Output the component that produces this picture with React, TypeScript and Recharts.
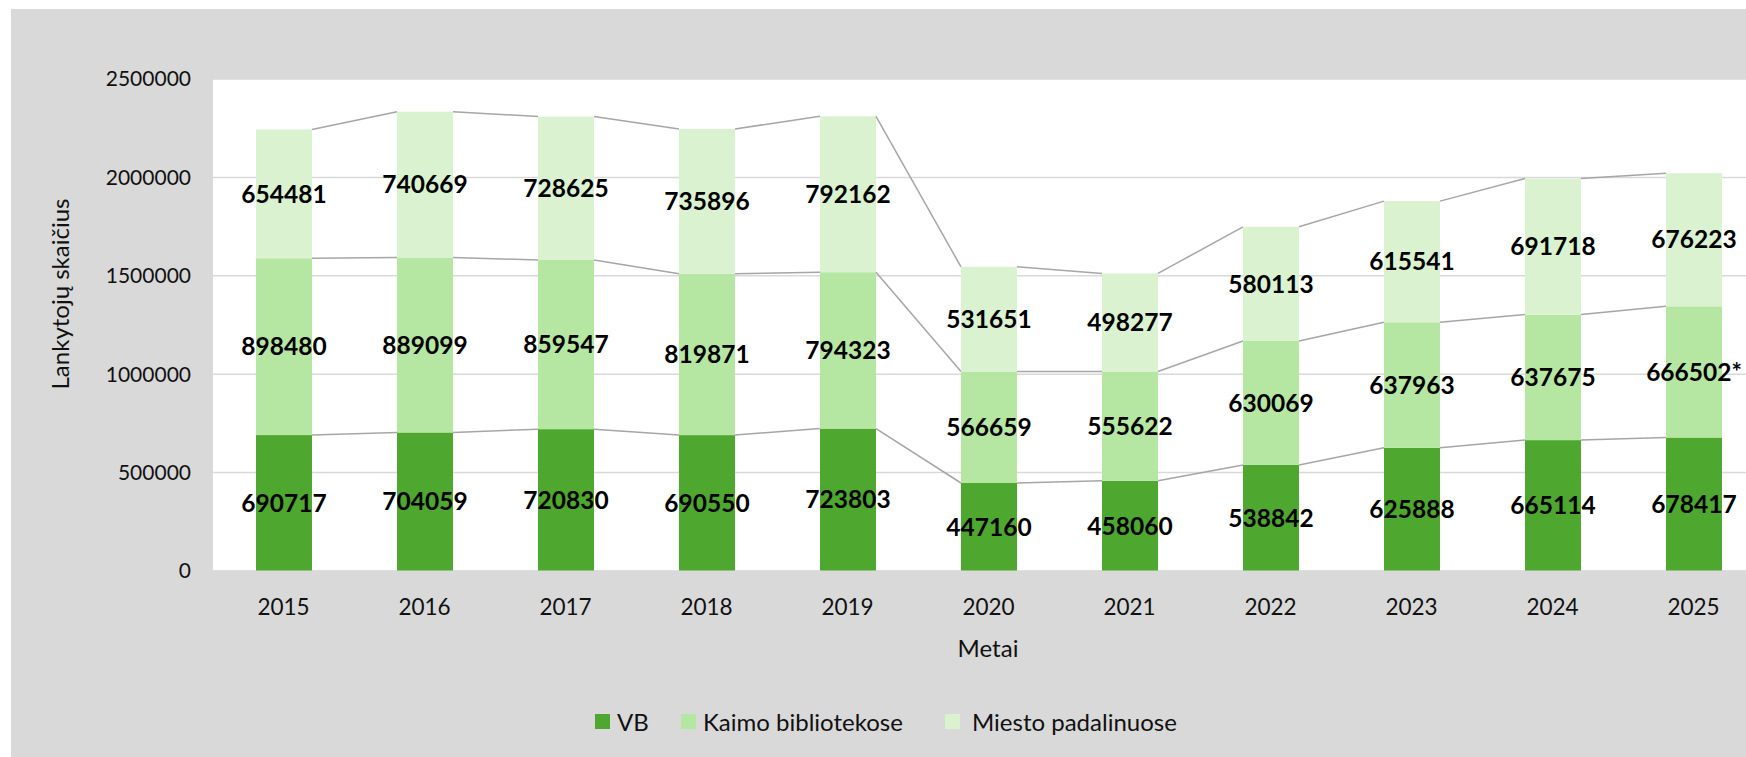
import React from "react";
import { BarChart, Bar, XAxis, YAxis, CartesianGrid, Legend, LabelList } from "recharts";

const years = ["2015", "2016", "2017", "2018", "2019", "2020", "2021", "2022", "2023", "2024", "2025"];
const vb = [690717, 704059, 720830, 690550, 723803, 447160, 458060, 538842, 625888, 665114, 678417];
const kaimo = [898480, 889099, 859547, 819871, 794323, 566659, 555622, 630069, 637963, 637675, 666502];
const miesto = [654481, 740669, 728625, 735896, 792162, 531651, 498277, 580113, 615541, 691718, 676223];
const kaimoNotes = ["", "", "", "", "", "", "", "", "", "", "*"];
const seriesNames = ["VB", "Kaimo bibliotekose", "Miesto padalinuose"];
const yTicks = [0, 500000, 1000000, 1500000, 2000000, 2500000];

const rows = years.map((year, i) => ({
  year,
  vb: vb[i],
  kaimo: kaimo[i],
  miesto: miesto[i],
  kaimoLabel: `${kaimo[i]}${kaimoNotes[i]}`,
}));

const stacks = [vb, kaimo, miesto];
const N = years.length;

// layout
const CHART_W = 1780;
const CHART_H = 748;
const Y_AXIS_W = 202;
const MARGIN = { top: 70, right: 27, bottom: 126, left: 0 };
const BAND = (CHART_W - Y_AXIS_W - MARGIN.left - MARGIN.right) / N;

const FONT = "Lato, 'Open Sans', sans-serif";
const SERIES_LINE = "#A6A6A6";

function stackBelow(k: number, i: number) {
  let s = 0;
  for (let j = 0; j < k; j++) s += stacks[j][i];
  return s;
}

// bar segment + Excel-like series line to the next bar
function makeSegment(k: number) {
  return function Segment(props: any) {
    const { x, y, width, height, index, fill } = props;
    const rect = <rect x={x} y={y} width={width} height={height} fill={fill} />;
    if (index >= N - 1) return rect;
    const ppu = height / stacks[k][index];
    const zeroY = y + height + stackBelow(k, index) * ppu;
    const nextTop = zeroY - (stackBelow(k, index + 1) + stacks[k][index + 1]) * ppu;
    return (
      <g>
        {rect}
        <line x1={x + width} y1={y} x2={x + BAND} y2={nextTop} stroke={SERIES_LINE} strokeWidth={1.5} />
      </g>
    );
  };
}

const YTitle = () => (
  <text x={48} y={285} transform="rotate(-90 48 285)" textAnchor="middle" dominantBaseline="central" fontSize={24} fill="#111">
    Lankytojų skaičius
  </text>
);

const XTitle = () => (
  <text x={977} y={638} textAnchor="middle" dominantBaseline="central" fontSize={24} fill="#111">
    Metai
  </text>
);

const LEGEND_W = [86, 264, 260];

function LegendContent(props: any) {
  const payload = [...(props.payload || [])].sort(
    (a: any, b: any) => seriesNames.indexOf(a.value) - seriesNames.indexOf(b.value)
  );
  return (
    <div style={{ display: "flex", alignItems: "center", fontFamily: FONT, fontSize: 24, lineHeight: "29px", color: "#111", whiteSpace: "nowrap" }}>
      {payload.map((p: any, i: number) => (
        <div key={p.value} style={{ display: "flex", alignItems: "center", width: LEGEND_W[i], flex: "none" }}>
          <span style={{ width: 15, height: 15, background: p.color, display: "inline-block", flex: "none" }} />
          <span style={{ marginLeft: i === 2 ? 12 : 7 }}>{p.value}</span>
        </div>
      ))}
    </div>
  );
}

const labelStyle = { fontSize: 24.5, fontWeight: 700, fill: "#000" };

export default function App() {
  return (
    <div style={{ position: "fixed", inset: 0, overflow: "hidden", background: "#fff", fontFamily: FONT }}>
      <div style={{ position: "absolute", left: 11, top: 9, width: CHART_W, height: CHART_H, background: "#D9D9D9" }}>
        <BarChart width={CHART_W} height={CHART_H} data={rows} margin={MARGIN}>
          <CartesianGrid vertical={false} stroke="#D9D9D9" strokeWidth={1.5} fill="#fff" />
          <XAxis
            dataKey="year"
            interval={0}
            tickLine={false}
            tickSize={0}
            tickMargin={28}
            height={60}
            axisLine={{ stroke: "#D9D9D9" }}
            tick={{ fontSize: 22.5, fill: "#111" }}
            label={<XTitle />}
          />
          <YAxis
            width={Y_AXIS_W}
            domain={[0, 2500000]}
            ticks={yTicks}
            interval={0}
            tickLine={false}
            axisLine={false}
            tickSize={0}
            tickMargin={22}
            tick={{ fontSize: 21, fill: "#111" }}
            label={<YTitle />}
          />
          <Legend
            layout="horizontal"
            verticalAlign="middle"
            align="center"
            content={<LegendContent />}
            wrapperStyle={{ top: 698, left: 584, width: 620 }}
          />
          <Bar dataKey="vb" name={seriesNames[0]} stackId="a" fill="#4EA72E" barSize={56} isAnimationActive={false} shape={makeSegment(0)}>
            <LabelList dataKey="vb" position="center" style={labelStyle} />
          </Bar>
          <Bar dataKey="kaimo" name={seriesNames[1]} stackId="a" fill="#B5E6A2" barSize={56} isAnimationActive={false} shape={makeSegment(1)}>
            <LabelList dataKey="kaimoLabel" position="center" style={labelStyle} />
          </Bar>
          <Bar dataKey="miesto" name={seriesNames[2]} stackId="a" fill="#DAF2D0" barSize={56} isAnimationActive={false} shape={makeSegment(2)}>
            <LabelList dataKey="miesto" position="center" style={labelStyle} />
          </Bar>
        </BarChart>
      </div>
    </div>
  );
}
